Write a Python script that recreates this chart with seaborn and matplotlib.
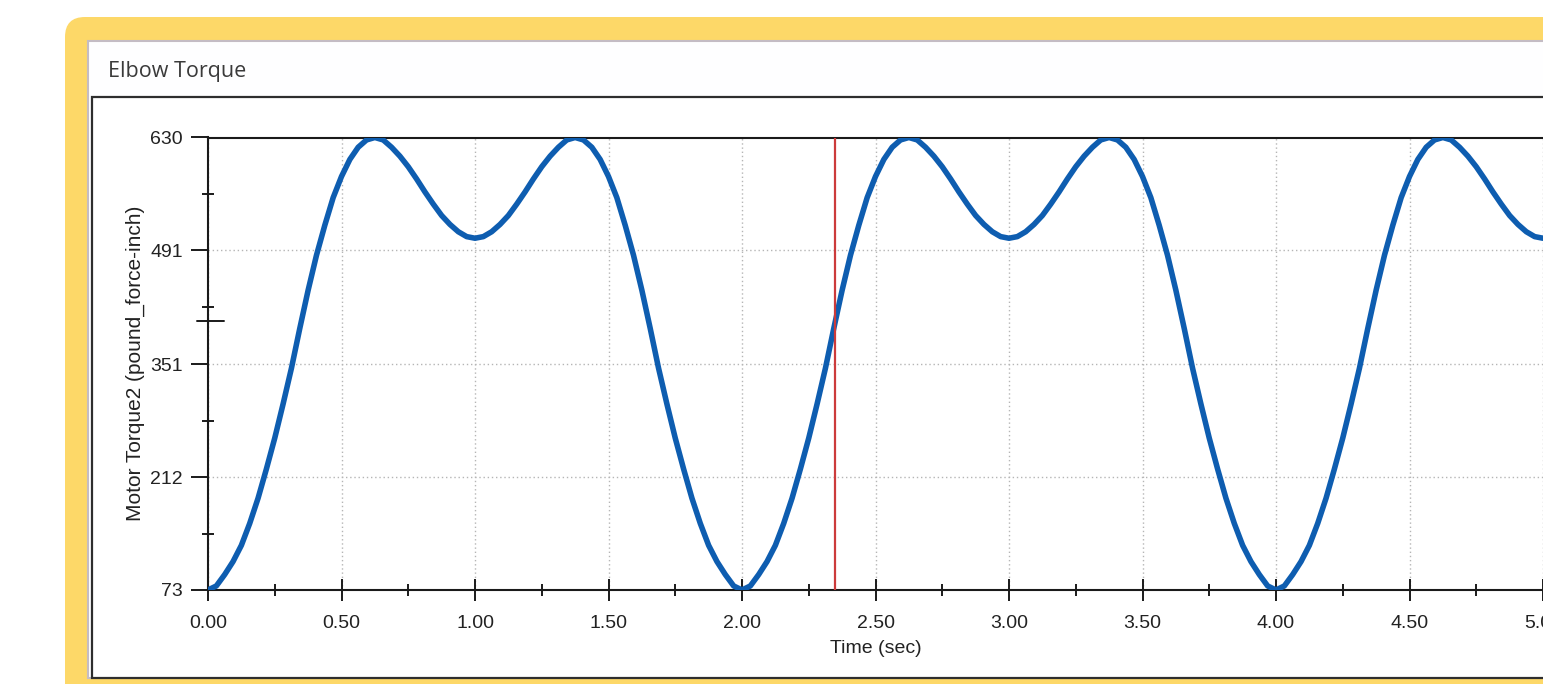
import numpy as np
import matplotlib
matplotlib.use("Agg")
import matplotlib.pyplot as plt
from matplotlib.patches import FancyBboxPatch, Rectangle
from matplotlib.ticker import FixedLocator, MultipleLocator, FormatStrFormatter
import seaborn as sns

# ---------------- data ----------------
title = "Elbow Torque"
x_label = "Time (sec)"
y_label = "Motor Torque2 (pound_force-inch)"
y_ticks = [73, 212, 351, 491, 630]
x_ticks = [0.0, 0.5, 1.0, 1.5, 2.0, 2.5, 3.0, 3.5, 4.0, 4.5, 5.0]
time_step = 0.03125
cursor_time = 2.35
torque = [
    73, 78, 92, 108, 128, 155, 186, 222, 260, 302, 346, 395, 442, 485, 522, 556,
    582, 603, 618, 627, 630, 627, 618, 607, 594, 579, 563, 548, 534, 523, 514, 508,
    506,
    508, 514, 523, 534, 548, 563, 579, 594, 607, 618, 627, 630, 627, 618, 603, 582,
    556, 522, 485, 442, 395, 346, 302, 260, 222, 186, 155, 128, 108, 92, 78, 73,
    78, 92, 108, 128, 155, 186, 222, 260, 302, 346, 395, 442, 485, 522, 556, 582,
    603, 618, 627, 630, 627, 618, 607, 594, 579, 563, 548, 534, 523, 514, 508, 506,
    508, 514, 523, 534, 548, 563, 579, 594, 607, 618, 627, 630, 627, 618, 603, 582,
    556, 522, 485, 442, 395, 346, 302, 260, 222, 186, 155, 128, 108, 92, 78, 73,
    78, 92, 108, 128, 155, 186, 222, 260, 302, 346, 395, 442, 485, 522, 556, 582,
    603, 618, 627, 630, 627, 618, 607, 594, 579, 563, 548, 534, 523, 514, 508, 506,
]
time = np.arange(len(torque)) * time_step

# ---------------- style ----------------
sns.set_theme(style="white")
plt.rcParams["font.family"] = ["Liberation Sans", "DejaVu Sans"]

W, H = 1543, 684
fig = plt.figure(figsize=(W / 100, H / 100), dpi=100, facecolor="white")

# background decoration (pixel coordinates)
bg = fig.add_axes([0, 0, 1, 1], zorder=0)
bg.set_xlim(0, W)
bg.set_ylim(H, 0)
bg.axis("off")
bg.add_patch(FancyBboxPatch((65, 17), 1700, 800,
                            boxstyle="round,pad=0,rounding_size=20",
                            facecolor="#FDD868", edgecolor="none"))
bg.add_patch(Rectangle((88, 41), 1700, 637, facecolor="#FEFEFF",
                       edgecolor="#c4bcc4", linewidth=1.5))
bg.add_patch(Rectangle((92, 97), 1700, 581, facecolor="white",
                       edgecolor="#2e2e2e", linewidth=1.6))
bg.text(108, 71, title, fontsize=15.5, color="#3a3a3a", va="center", ha="left",
        family=["Open Sans", "DejaVu Sans"])

# ---------------- main chart ----------------
left, right, top, bottom = 208, 1543, 137.5, 590
ax = fig.add_axes([left / W, 1 - bottom / H, (right - left) / W, (bottom - top) / H],
                  zorder=2)
ax.set_facecolor("white")

sns.lineplot(x=time, y=torque, ax=ax, color="#0E5DB0", linewidth=4.0,
             sort=False, estimator=None, zorder=3)
ax.axvline(cursor_time, color="#CC3B3B", linewidth=1.6, zorder=4)

ax.set_xlim(0, 5.0)
ax.set_ylim(73, 630)
ax.xaxis.set_major_locator(FixedLocator(x_ticks))
ax.xaxis.set_major_formatter(FormatStrFormatter("%.2f"))
ax.xaxis.set_minor_locator(MultipleLocator(0.25))
ax.yaxis.set_major_locator(FixedLocator(y_ticks))
ax.yaxis.set_minor_locator(FixedLocator(
    [(a + b) / 2 for a, b in zip(y_ticks[:-1], y_ticks[1:])]))

ax.grid(True, which="major", linestyle=(0, (1, 2)), color="#b5b5b5", linewidth=1.0)
ax.set_axisbelow(True)

for side in ["left", "bottom", "top"]:
    ax.spines[side].set_visible(True)
    ax.spines[side].set_color("#1a1a1a")
    ax.spines[side].set_linewidth(1.5)
ax.spines["right"].set_visible(False)

ax.tick_params(axis="y", which="major", direction="out", length=12, width=1.4,
               color="#1a1a1a", pad=6, labelsize=14, labelcolor="#222222", left=True)
ax.tick_params(axis="y", which="minor", direction="inout", length=8, width=1.4,
               color="#1a1a1a", left=True)
ax.tick_params(axis="x", which="major", direction="inout", length=16, width=1.4,
               color="#1a1a1a", pad=10, labelsize=14, labelcolor="#222222", bottom=True)
ax.tick_params(axis="x", which="minor", direction="inout", length=8, width=1.4,
               color="#1a1a1a", bottom=True)

# cursor value marker on the y axis
cursor_value = np.interp(cursor_time, time, torque)
ax.axhline(cursor_value, xmin=-0.008, xmax=0.012, color="#1a1a1a",
           linewidth=1.4, clip_on=False, zorder=5)

ax.set_xlabel(x_label, fontsize=14, color="#222222", labelpad=6)
ax.set_ylabel(y_label, fontsize=15, color="#222222", labelpad=4)

fig.savefig("out.png", dpi=100, facecolor="white")
